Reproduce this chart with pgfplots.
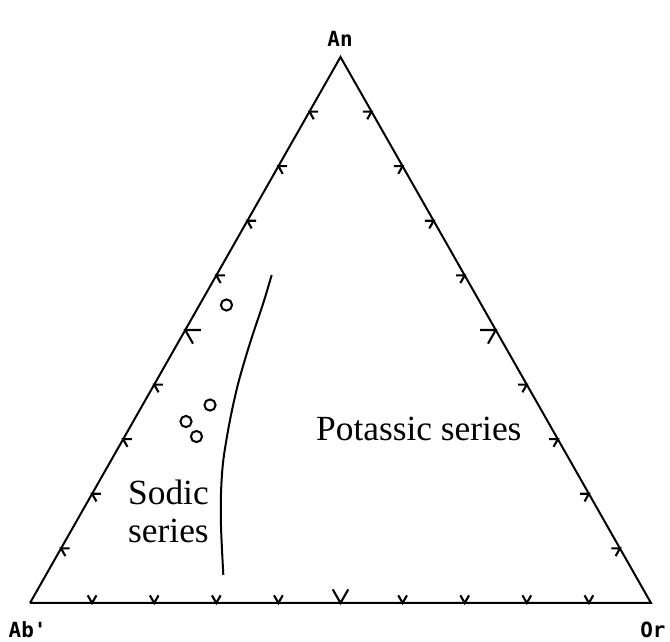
\documentclass[border=0pt]{standalone}
\usepackage{pgfplots}
\pgfplotsset{compat=1.18}
\usepackage{fontspec}
\setmainfont{Liberation Serif}
\newfontfamily\plotterfont{DejaVu Sans Mono}

% Ternary diagram An - Ab' - Or, drawn in a Cartesian frame:
% u runs along the Ab'-Or base (0..1), v is the height towards An (0..1).
\begin{document}
\begin{tikzpicture}
\begin{axis}[
  width=670bp, height=641bp, scale only axis,
  hide axis, clip=false,
  xmin=-0.0483, xmax=1.0306,
  ymin=-0.0696, ymax=1.1044,
  unbounded coords=jump,
]
\draw[draw=none] (rel axis cs:0,0) rectangle (rel axis cs:1,1);

% triangle outline
\addplot[black, line width=2bp, line join=miter] coordinates {
  (0,0) (1,0) (0.5,1) (0,0)
};

% tick marks at every 10 %, larger at 50 %
\addplot[black, line width=2.1bp] coordinates {
  % base (Ab'-Or)
  (0.0930,0.014) (0.1,0) (0.1070,0.014) (nan,nan)
  (0.1930,0.014) (0.2,0) (0.2070,0.014) (nan,nan)
  (0.2930,0.014) (0.3,0) (0.3070,0.014) (nan,nan)
  (0.3930,0.014) (0.4,0) (0.4070,0.014) (nan,nan)
  (0.4875,0.025) (0.5,0) (0.5125,0.025) (nan,nan)
  (0.5930,0.014) (0.6,0) (0.6070,0.014) (nan,nan)
  (0.6930,0.014) (0.7,0) (0.7070,0.014) (nan,nan)
  (0.7930,0.014) (0.8,0) (0.8070,0.014) (nan,nan)
  (0.8930,0.014) (0.9,0) (0.9070,0.014) (nan,nan)
  % left side (Ab'-An)
  (0.064,0.1) (0.05,0.1) (0.057,0.086) (nan,nan)
  (0.114,0.2) (0.1,0.2) (0.107,0.186) (nan,nan)
  (0.164,0.3) (0.15,0.3) (0.157,0.286) (nan,nan)
  (0.214,0.4) (0.2,0.4) (0.207,0.386) (nan,nan)
  (0.275,0.5) (0.25,0.5) (0.2625,0.475) (nan,nan)
  (0.314,0.6) (0.3,0.6) (0.307,0.586) (nan,nan)
  (0.364,0.7) (0.35,0.7) (0.357,0.686) (nan,nan)
  (0.414,0.8) (0.4,0.8) (0.407,0.786) (nan,nan)
  (0.464,0.9) (0.45,0.9) (0.457,0.886) (nan,nan)
  % right side (Or-An)
  (0.936,0.1) (0.95,0.1) (0.943,0.086) (nan,nan)
  (0.886,0.2) (0.9,0.2) (0.893,0.186) (nan,nan)
  (0.836,0.3) (0.85,0.3) (0.843,0.286) (nan,nan)
  (0.786,0.4) (0.8,0.4) (0.793,0.386) (nan,nan)
  (0.725,0.5) (0.75,0.5) (0.7375,0.475) (nan,nan)
  (0.686,0.6) (0.7,0.6) (0.693,0.586) (nan,nan)
  (0.636,0.7) (0.65,0.7) (0.643,0.686) (nan,nan)
  (0.586,0.8) (0.6,0.8) (0.593,0.786) (nan,nan)
  (0.536,0.9) (0.55,0.9) (0.543,0.886)
};

% boundary between the sodic and potassic series
\addplot[black, line width=2bp, smooth] coordinates {
  (0.3892,0.6007) (0.3757,0.5495) (0.3543,0.4762) (0.3354,0.4029)
  (0.3221,0.3352) (0.3113,0.2619) (0.3076,0.2015) (0.3076,0.1392)
  (0.3113,0.0513)
};

% samples
\addplot[only marks, mark=o, mark size=5.6bp, black,
  mark options={line width=2bp}] coordinates {
  (0.3164,0.5458) (0.2899,0.3626) (0.2512,0.3324) (0.2681,0.3049)
};

% apex labels
\node[anchor=base, font=\plotterfont\bfseries\fontsize{21}{24}\selectfont]
  at (axis cs:0.4992,1.0201) {An};
\node[anchor=base west, font=\plotterfont\bfseries\fontsize{21}{24}\selectfont]
  at (axis cs:-0.040,-0.0640) {Ab'};
\node[anchor=base east, font=\plotterfont\bfseries\fontsize{21}{24}\selectfont]
  at (axis cs:1.0290,-0.0640) {Or};

% field labels
\node[anchor=base west, inner sep=0pt, font=\fontsize{35.5}{40}\selectfont]
  at (axis cs:0.4605,0.2985) {Potassic series};
\node[anchor=base west, inner sep=0pt, font=\fontsize{35.5}{40}\selectfont]
  at (axis cs:0.1578,0.1795) {Sodic};
\node[anchor=base west, inner sep=0pt, font=\fontsize{35.5}{40}\selectfont]
  at (axis cs:0.1578,0.1117) {series};
\end{axis}
\end{tikzpicture}
\end{document}
